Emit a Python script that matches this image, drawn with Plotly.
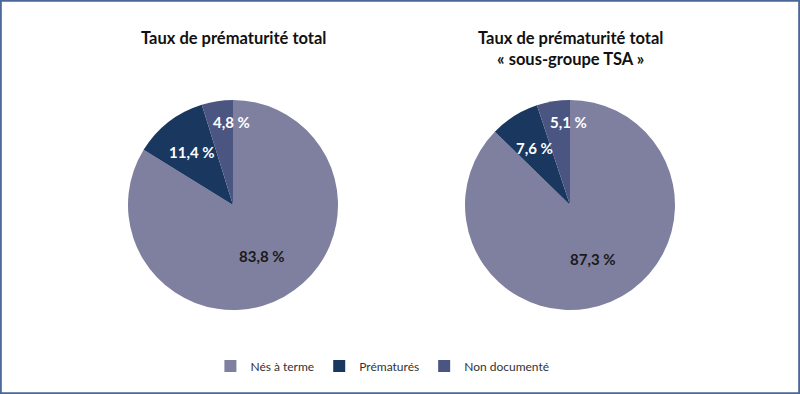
import math
import plotly.graph_objects as go

labels = ["Nés à terme", "Prématurés", "Non documenté"]
values_total = [83.8, 11.4, 4.8]
values_tsa = [87.3, 7.6, 5.1]
titles = ["Taux de prématurité total", "Taux de prématurité total<br>« sous-groupe TSA »"]
colors = ["#7f7f9f", "#19375f", "#4b5581"]
text_colors = ["#1a1a1a", "#ffffff", "#ffffff"]

W, H = 800, 394
FONT = "Lato"

fig = go.Figure()

centers = [(233, 205), (570, 205)]
R = 105

for i, (vals, (cx, cy)) in enumerate(zip([values_total, values_tsa], centers)):
    fig.add_trace(go.Pie(
        labels=labels, values=vals, sort=False, direction="clockwise", rotation=0,
        marker=dict(colors=colors, line=dict(width=0)),
        textinfo="none", hoverinfo="label+value",
        domain=dict(x=[(cx - R) / W, (cx + R) / W], y=[(H - cy - R) / H, (H - cy + R) / H]),
        showlegend=True,
    ))
    total = sum(vals)
    cum = 0
    for j, v in enumerate(vals):
        mid = (cum + v / 2) / total * 2 * math.pi
        cum += v
        share = v / total
        rf = 0.56 if share > 0.5 else (0.64 if share > 0.06 else 0.8)
        px = cx + math.sin(mid) * R * rf
        py = cy - math.cos(mid) * R * rf
        if share <= 0.06:
            px = max(px, cx - 2)
        fig.add_annotation(
            x=px / W, y=1 - py / H, xref="paper", yref="paper",
            xanchor="center", yanchor="middle",
            text=f"{v:.1f} %".replace(".", ","), showarrow=False,
            font=dict(family=FONT, size=15, color=text_colors[j], weight="bold"),
        )
    fig.add_annotation(
        x=cx / W, y=1 - 26 / H, xref="paper", yref="paper", xanchor="center", yanchor="top",
        text=titles[i], showarrow=False,
        font=dict(family=FONT, size=16.5, color="#111111", weight="bold"),
    )

fig.add_shape(type="rect", xref="paper", yref="paper", x0=0.001, x1=0.999, y0=0.002, y1=0.998,
              line=dict(color="#4a6898", width=2))

fig.update_layout(
    width=W, height=H,
    margin=dict(l=0, r=0, t=0, b=0),
    paper_bgcolor="white", plot_bgcolor="white",
    font=dict(family=FONT, size=12, color="#333333"),
    legend=dict(orientation="h", x=0.478, xanchor="center", y=1 - 366 / H, yanchor="middle",
                font=dict(family=FONT, size=12, color="#333333"), itemclick=False),
)

fig.write_html("out.html", post_script="document.body.style.margin='0';",
               config={"displayModeBar": False})
